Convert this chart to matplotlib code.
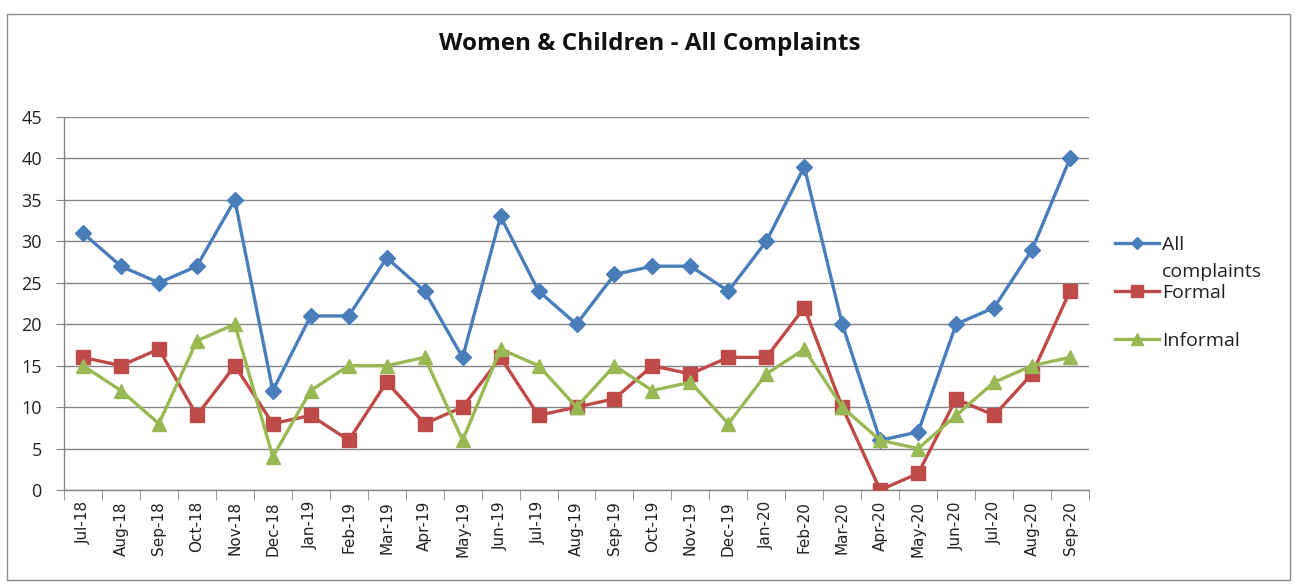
import numpy as np
import matplotlib
matplotlib.use("Agg")
import matplotlib.pyplot as plt
from matplotlib.patches import Rectangle
from matplotlib.lines import Line2D

months = ["Jul-18", "Aug-18", "Sep-18", "Oct-18", "Nov-18", "Dec-18", "Jan-19", "Feb-19",
          "Mar-19", "Apr-19", "May-19", "Jun-19", "Jul-19", "Aug-19", "Sep-19", "Oct-19",
          "Nov-19", "Dec-19", "Jan-20", "Feb-20", "Mar-20", "Apr-20", "May-20", "Jun-20",
          "Jul-20", "Aug-20", "Sep-20"]
all_complaints = [31, 27, 25, 27, 35, 12, 21, 21, 28, 24, 16, 33, 24, 20, 26, 27, 27, 24, 30,
                  39, 20, 6, 7, 20, 22, 29, 40]
formal = [16, 15, 17, 9, 15, 8, 9, 6, 13, 8, 10, 16, 9, 10, 11, 15, 14, 16, 16, 22, 10, 0, 2,
          11, 9, 14, 24]
informal = [15, 12, 8, 18, 20, 4, 12, 15, 15, 16, 6, 17, 15, 10, 15, 12, 13, 8, 14, 17, 10, 6,
            5, 9, 13, 15, 16]
yticks = [0, 5, 10, 15, 20, 25, 30, 35, 40, 45]

plt.rcParams['font.family'] = ['Open Sans', 'DejaVu Sans']

W, H = 1295, 584
fig = plt.figure(figsize=(W / 100, H / 100), dpi=100)
fig.patch.set_facecolor('white')

# outer chart border
fig.patches.append(Rectangle((7 / W, 4 / H), 1283 / W, 566 / H, transform=fig.transFigure,
                             fill=False, edgecolor='#8c8c8c', linewidth=1.0))

ax = fig.add_axes([64 / W, 1 - 490 / H, (1089 - 64) / W, (490 - 117) / H])
x = np.arange(len(months))

blue, red, green = '#4A7EBB', '#BE4B48', '#98B954'
ax.plot(x, all_complaints, color=blue, lw=2.4, marker='D', ms=8, zorder=3)
ax.plot(x, formal, color=red, lw=2.4, marker='s', ms=10, zorder=4)
ax.plot(x, informal, color=green, lw=2.4, marker='^', ms=10, zorder=5)

ax.set_xlim(-0.5, len(months) - 0.5)
ax.set_ylim(0, 45)
ax.set_yticks(yticks)
ax.set_yticklabels([str(v) for v in yticks], fontsize=13, color='#222222')
ax.yaxis.grid(True, color='#868686', linewidth=1.0)
ax.set_axisbelow(True)
ax.tick_params(axis='y', length=6, color='#868686', pad=10, direction='out')

ax.set_xticks(x)
ax.set_xticklabels(months, rotation=90, fontsize=11, family='DejaVu Sans', color='#222222')
ax.tick_params(axis='x', which='major', length=0, pad=8)
ax.set_xticks(np.arange(-0.5, len(months)), minor=True)
ax.tick_params(axis='x', which='minor', length=7, color='#868686', direction='out')

for s in ['top', 'right']:
    ax.spines[s].set_visible(False)
for s in ['left', 'bottom']:
    ax.spines[s].set_color('#868686')
    ax.spines[s].set_linewidth(1.0)

fig.text(650 / W, 1 - 44 / H, 'Women & Children - All Complaints', ha='center', va='center',
         fontsize=17.5, fontweight='bold', color='#111111')

# legend (Excel style: handle aligned with first text line)
leg_items = [(blue, 'D', 6, 243, "All\ncomplaints"),
             (red, 's', 8, 291, "Formal"),
             (green, '^', 8, 339, "Informal")]
for col, mk, ms, yy, lab in leg_items:
    yf = 1 - yy / H
    fig.add_artist(Line2D([1115 / W, 1159 / W], [yf, yf], transform=fig.transFigure,
                          color=col, lw=2.4))
    fig.add_artist(Line2D([1137 / W], [yf], transform=fig.transFigure, color=col,
                          marker=mk, ms=ms, lw=0))
    for i, ln in enumerate(lab.split("\n")):
        fig.text(1162 / W, 1 - (yy + 27 * i) / H, ln, ha='left', va='center_baseline',
                 fontsize=14, color='#222222')

fig.savefig('out.png', dpi=100, facecolor='white')
